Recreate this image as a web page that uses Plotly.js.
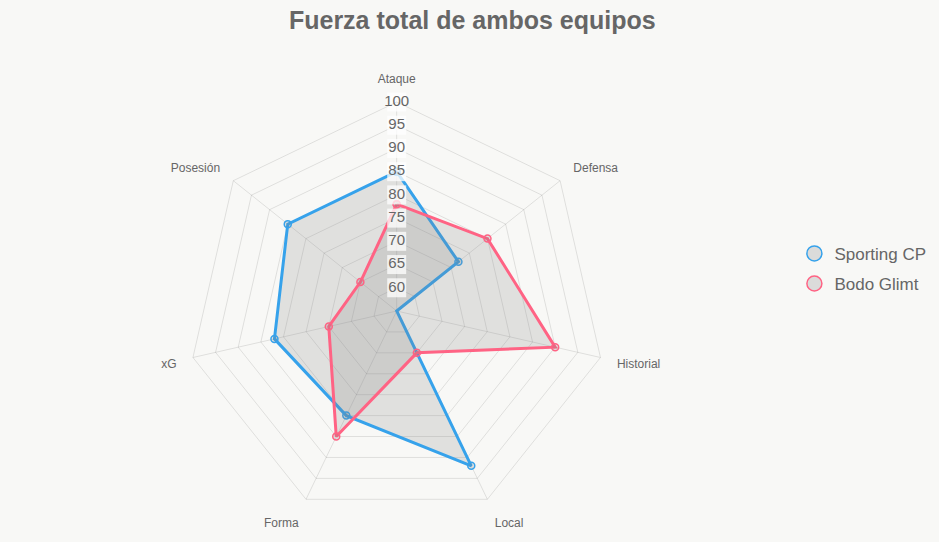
<!DOCTYPE html>
<html>
<head>
<meta charset="utf-8">
<script src="https://cdn.plot.ly/plotly-3.0.1.min.js"></script>
<style>html,body{margin:0;padding:0;background:#f8f8f6;}#chart{width:939px;height:542px;}</style>
</head>
<body>
<div id="chart"></div>
<script>
const categories = ["Ataque", "Defensa", "Historial", "Local", "Forma", "xG", "Posesión"];
const sportingValues = [85, 72, 55, 92, 80, 82, 85];
const bodoValues = [78, 80, 90, 65, 85, 70, 65];
const seriesNames = ["Sporting CP", "Bodo Glimt"];
const tickValues = [60, 65, 70, 75, 80, 85, 90, 95, 100];
const tickLabels = tickValues.map(String);

const blue = "#36A2EB";
const pink = "#FF6384";
const fillGray = "rgba(128,128,128,0.2)";
const font = "Liberation Sans, Arial, Helvetica, sans-serif";

function closed(a) { return a.concat([a[0]]); }

function seriesTrace(values, name, color) {
  return {
    type: "scatterpolar",
    r: closed(values),
    theta: closed(categories),
    name: name,
    mode: "lines+markers",
    fill: "toself",
    fillcolor: fillGray,
    line: {color: color, width: 3},
    marker: {symbol: "circle", size: 7, color: fillGray, line: {color: color, width: 1.5}},
    showlegend: false,
    hoverinfo: "skip"
  };
}

function legendTrace(name, color, group) {
  return {
    type: "scatterpolar",
    r: [null],
    theta: [categories[0]],
    name: name,
    legendgroup: group,
    mode: "markers",
    marker: {symbol: "circle", size: 15, color: "rgba(200,200,200,0.6)", line: {color: color, width: 1.5}},
    showlegend: true,
    hoverinfo: "skip"
  };
}

const tickTrace = {
  type: "scatterpolar",
  r: tickValues,
  theta: tickValues.map(() => categories[0]),
  mode: "markers+text",
  text: tickLabels,
  textposition: "middle center",
  textfont: {family: font, size: 15, color: "#666666"},
  marker: {symbol: "square", size: 19, color: "rgba(255,255,255,0.75)", line: {width: 0}},
  showlegend: false,
  hoverinfo: "skip",
  cliponaxis: false
};

const data = [
  seriesTrace(sportingValues, seriesNames[0], blue),
  seriesTrace(bodoValues, seriesNames[1], pink),
  tickTrace,
  legendTrace(seriesNames[0], blue, "a"),
  legendTrace(seriesNames[1], pink, "b")
];

const cx = 396.7, cy = 311, R = 209, W = 939, H = 542;

const layout = {
  width: W,
  height: H,
  paper_bgcolor: "#f8f8f6",
  plot_bgcolor: "#f8f8f6",
  margin: {l: 0, r: 0, t: 0, b: 0},
  font: {family: font, color: "#666666"},
  title: {
    text: "<b>Fuerza total de ambos equipos</b>",
    font: {family: font, size: 25, color: "#666666"},
    x: 0.503, xanchor: "center",
    y: 0.962, yanchor: "middle"
  },
  showlegend: true,
  legend: {
    x: 0.846, xanchor: "left",
    y: 0.504, yanchor: "middle",
    font: {family: font, size: 17, color: "#666666"},
    bgcolor: "rgba(0,0,0,0)",
    itemwidth: 30,
    tracegroupgap: 5
  },
  polar: {
    domain: {x: [(cx - R) / W, (cx + R) / W], y: [(H - cy - R) / H, (H - cy + R) / H]},
    bgcolor: "rgba(0,0,0,0)",
    gridshape: "linear",
    angularaxis: {
      rotation: 90,
      direction: "clockwise",
      categoryorder: "array",
      categoryarray: categories,
      showgrid: true,
      gridcolor: "rgba(0,0,0,0.1)",
      gridwidth: 1,
      showline: true,
      linecolor: "rgba(0,0,0,0.1)",
      linewidth: 1,
      ticks: "outside",
      ticklen: 14,
      tickcolor: "rgba(0,0,0,0)",
      showticklabels: true,
      tickfont: {family: font, size: 12, color: "#666666"}
    },
    radialaxis: {
      range: [55, 100],
      tickvals: tickValues,
      showticklabels: false,
      ticks: "",
      showline: false,
      showgrid: true,
      gridcolor: "rgba(0,0,0,0.1)",
      gridwidth: 1,
      angle: 90
    }
  }
};

Plotly.newPlot("chart", data, layout, {displayModeBar: false, staticPlot: true});
</script>
</body>
</html>
